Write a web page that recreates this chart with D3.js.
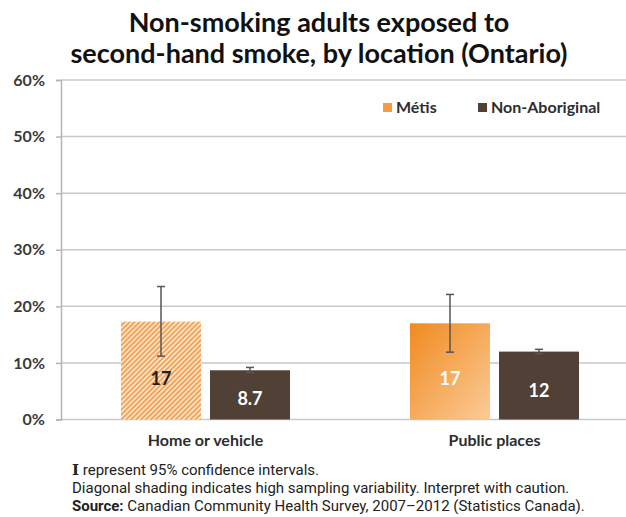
<!DOCTYPE html>
<html>
<head>
<meta charset="utf-8">
<script src="https://cdn.jsdelivr.net/npm/d3@7"></script>
<style>
  body { margin: 0; background: #fff; }
  svg { display: block; }
</style>
</head>
<body>
<div class="chart"></div>
<script>
// data
var categories = ["Home or vehicle", "Public places"];
var seriesNames = ["Métis", "Non-Aboriginal"];
var metisValues = [17.3, 17.0];
var metisLabels = ["17", "17"];
var metisLow = [11.2, 11.9];
var metisHigh = [23.5, 22.1];
var nonAbValues = [8.7, 12.0];
var nonAbLabels = ["8.7", "12"];
var nonAbLow = [8.3, 11.6];
var nonAbHigh = [9.2, 12.4];
var metisHatched = [true, false];
var yTicks = [0, 10, 20, 30, 40, 50, 60];

var svgWidth = 626;
var svgHeight = 517;

var svg = d3.select(".chart")
  .append("svg")
    .attr("width", svgWidth)
    .attr("height", svgHeight);

var defs = svg.append("defs");

// diagonal hatch for high sampling variability
var hatch = defs.append("pattern")
    .attr("id", "hatch")
    .attr("patternUnits", "userSpaceOnUse")
    .attr("width", 3.5)
    .attr("height", 3.5)
    .attr("patternTransform", "rotate(45)");
hatch.append("rect").attr("width", 3.5).attr("height", 3.5).attr("fill", "#fde6ce");
hatch.append("rect").attr("width", 1.8).attr("height", 3.5).attr("fill", "#f6a052");

// gradient for the solid Métis bar
var grad = defs.append("linearGradient")
    .attr("id", "metisGrad")
    .attr("x1", "0%").attr("y1", "0%")
    .attr("x2", "100%").attr("y2", "100%");
grad.append("stop").attr("offset", "0%").attr("stop-color", "#f08a1f");
grad.append("stop").attr("offset", "100%").attr("stop-color", "#fbcb98");

var nonAbColor = "#514035";

// build rows for drawing
var rows = [];
categories.forEach(function(c, i) {
  rows.push({ cat: c, series: seriesNames[0], value: metisValues[i], label: metisLabels[i],
              low: metisLow[i], high: metisHigh[i], hatched: metisHatched[i] });
  rows.push({ cat: c, series: seriesNames[1], value: nonAbValues[i], label: nonAbLabels[i],
              low: nonAbLow[i], high: nonAbHigh[i], hatched: false });
});

// scales
var x0 = d3.scaleBand().domain(categories).range([61, 639]).padding(0);
var x1 = d3.scaleBand().domain(seriesNames).range([60, 229]).paddingInner(0.101).paddingOuter(0);
var y = d3.scaleLinear().domain([0, 60]).range([419.5, 80]);

// gridlines
svg.append("g")
  .selectAll("line")
  .data(yTicks)
  .enter().append("line")
    .attr("x1", 61)
    .attr("x2", svgWidth)
    .attr("y1", function(d) { return y(d); })
    .attr("y2", function(d) { return y(d); })
    .attr("stroke", "#c9c9c9")
    .attr("stroke-width", 1.5);

// left axis
var leftAxis = d3.axisLeft(y)
  .tickValues(yTicks)
  .tickSize(5)
  .tickFormat(function(d) { return d + "%"; });

var axisG = svg.append("g")
  .attr("transform", "translate(61,0)")
  .call(leftAxis);
axisG.select(".domain").attr("stroke", "#b5b5b5").attr("stroke-width", 1.5);
axisG.selectAll(".tick line").attr("stroke", "#b5b5b5").attr("stroke-width", 1.5);
axisG.selectAll(".tick text")
  .attr("x", -16)
  .attr("font-family", "Lato, sans-serif")
  .attr("font-weight", "bold")
  .attr("font-size", 16)
  .attr("fill", "#3a3a3a");

// bars
var bars = svg.append("g");
bars.selectAll("rect")
  .data(rows)
  .enter().append("rect")
    .attr("x", function(d) { return x0(d.cat) + x1(d.series); })
    .attr("y", function(d) { return y(d.value); })
    .attr("width", x1.bandwidth())
    .attr("height", function(d) { return y(0) - y(d.value); })
    .attr("fill", function(d) {
      if (d.series === seriesNames[1]) return nonAbColor;
      return d.hatched ? "url(#hatch)" : "url(#metisGrad)";
    });

// value labels inside bars
bars.selectAll("text")
  .data(rows)
  .enter().append("text")
    .attr("x", function(d) { return x0(d.cat) + x1(d.series) + x1.bandwidth() / 2; })
    .attr("y", function(d) { return y(d.value * 0.42); })
    .attr("dy", "0.35em")
    .attr("text-anchor", "middle")
    .attr("font-family", "Lato, sans-serif")
    .attr("font-weight", "bold")
    .attr("font-size", 18)
    .attr("fill", function(d) { return d.hatched ? "#1e1e1e" : "#ffffff"; })
    .text(function(d) { return d.label; });

// confidence intervals
var err = svg.append("g").attr("stroke", "#555").attr("stroke-width", 1.5);
rows.forEach(function(d) {
  var cx = x0(d.cat) + x1(d.series) + x1.bandwidth() / 2;
  err.append("line").attr("x1", cx).attr("x2", cx).attr("y1", y(d.high)).attr("y2", y(d.low));
  err.append("line").attr("x1", cx - 4).attr("x2", cx + 4).attr("y1", y(d.high)).attr("y2", y(d.high));
  err.append("line").attr("x1", cx - 4).attr("x2", cx + 4).attr("y1", y(d.low)).attr("y2", y(d.low));
});

// category labels
svg.append("g")
  .selectAll("text")
  .data(categories)
  .enter().append("text")
    .attr("x", function(d) { return x0(d) + x0.bandwidth() / 2; })
    .attr("y", 446)
    .attr("text-anchor", "middle")
    .attr("font-family", "Lato, sans-serif")
    .attr("font-weight", "bold")
    .attr("font-size", 16)
    .attr("fill", "#2e2e2e")
    .text(function(d) { return d; });

// legend
var legendX = [383, 478];
var legend = svg.append("g");
seriesNames.forEach(function(s, i) {
  legend.append("rect")
    .attr("x", legendX[i])
    .attr("y", 103)
    .attr("width", 9)
    .attr("height", 9)
    .attr("fill", i === 0 ? "#f59a45" : nonAbColor);
  legend.append("text")
    .attr("x", legendX[i] + 13)
    .attr("y", 112.5)
    .attr("font-family", "Lato, sans-serif")
    .attr("font-weight", "bold")
    .attr("font-size", 16)
    .attr("fill", "#2e2e2e")
    .text(s);
});

// title
var titleLines = ["Non-smoking adults exposed to", "second-hand smoke, by location (Ontario)"];
svg.append("g")
  .selectAll("text")
  .data(titleLines)
  .enter().append("text")
    .attr("x", 319)
    .attr("y", function(d, i) { return 32 + i * 31; })
    .attr("text-anchor", "middle")
    .attr("font-family", "Lato, sans-serif")
    .attr("font-weight", "bold")
    .attr("font-size", 27)
    .attr("fill", "#111")
    .text(function(d) { return d; });

// footnotes
var notes = svg.append("g")
  .attr("font-family", "Roboto, sans-serif")
  .attr("font-size", 15)
  .attr("fill", "#222");

var n1 = notes.append("text").attr("x", 72).attr("y", 475);
n1.append("tspan").attr("font-family", "DejaVu Serif, serif").attr("font-weight", "bold").text("I");
n1.append("tspan").text(" represent 95% confidence intervals.");

notes.append("text").attr("x", 72).attr("y", 493)
  .text("Diagonal shading indicates high sampling variability. Interpret with caution.");

var n3 = notes.append("text").attr("x", 72).attr("y", 511);
n3.append("tspan").attr("font-weight", "bold").text("Source:");
n3.append("tspan").text(" Canadian Community Health Survey, 2007–2012 (Statistics Canada).");
</script>
</body>
</html>
